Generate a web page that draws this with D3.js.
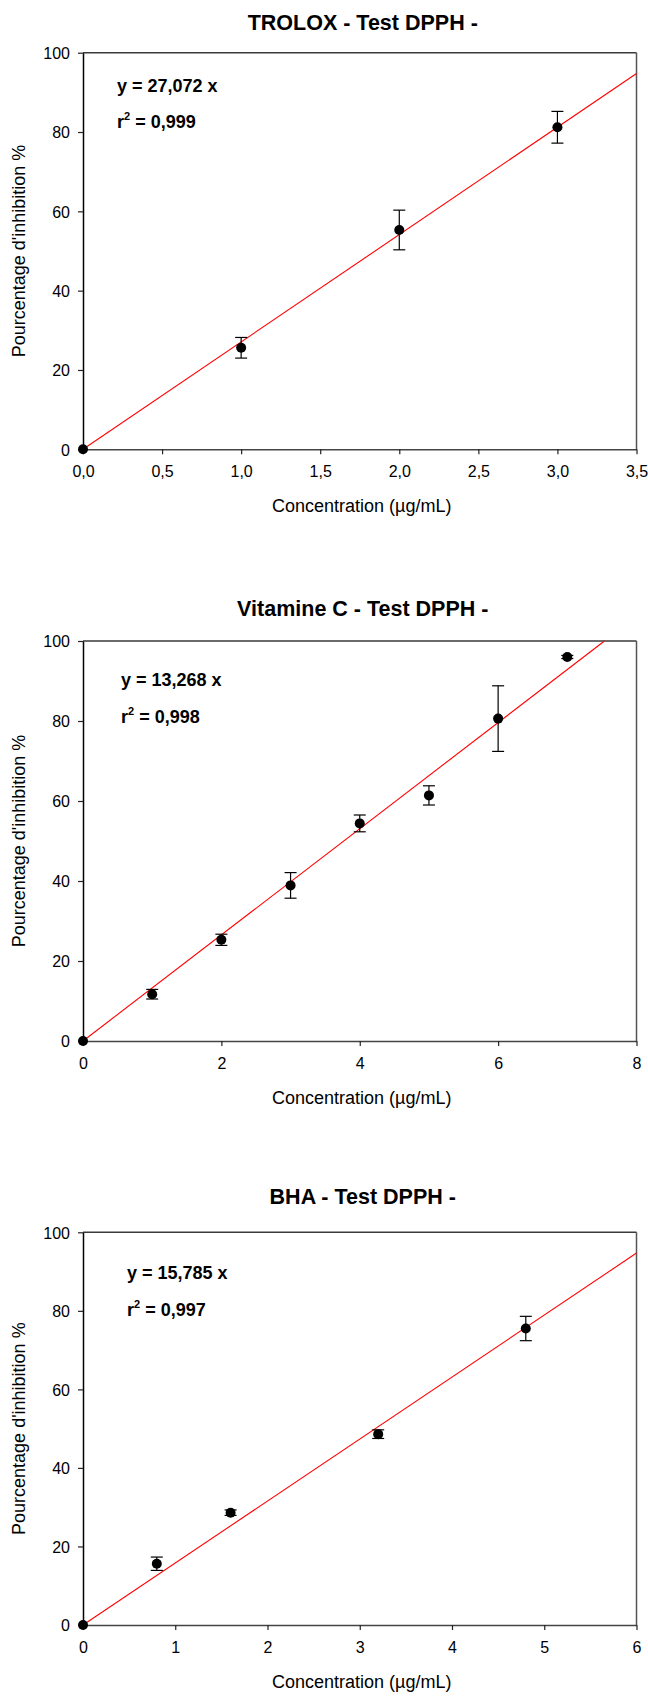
<!DOCTYPE html>
<html><head><meta charset="utf-8">
<script src="https://cdn.jsdelivr.net/npm/d3@7/dist/d3.min.js"></script>
<style>
html,body{margin:0;padding:0;background:#fff;}
text{font-family:"Liberation Sans",Arial,sans-serif;fill:#000;}
</style></head>
<body>
<svg id="c" width="648" height="1697"></svg>
<script>
// ---- data ----
const titles = ["TROLOX - Test DPPH -", "Vitamine C - Test DPPH -", "BHA - Test DPPH -"];
const troloxX = [0, 1, 2, 3];
const troloxY = [0, 25.6, 55.3, 81.2];
const troloxErr = [0, 2.6, 5.0, 4.0];
const vitcX = [0, 1, 2, 3, 4, 5, 6, 7];
const vitcY = [0, 11.7, 25.3, 38.9, 54.4, 61.4, 80.6, 96.0];
const vitcErr = [0, 1.2, 1.4, 3.2, 2.1, 2.4, 8.2, 0.4];
const bhaX = [0, 0.8, 1.6, 3.2, 4.8];
const bhaY = [0, 15.6, 28.6, 48.6, 75.5];
const bhaErr = [0, 1.7, 0.7, 1.1, 3.1];
const slopes = [27.072, 13.268, 15.785];
const slopeLabels = ["27,072", "13,268", "15,785"];
const r2Labels = ["0,999", "0,998", "0,997"];
const xMax = [3.5, 8, 6];
const troloxTicks = [0, 0.5, 1, 1.5, 2, 2.5, 3, 3.5];
const troloxTickLabels = ["0,0", "0,5", "1,0", "1,5", "2,0", "2,5", "3,0", "3,5"];
const vitcTicks = [0, 2, 4, 6, 8];
const vitcTickLabels = ["0", "2", "4", "6", "8"];
const bhaTicks = [0, 1, 2, 3, 4, 5, 6];
const bhaTickLabels = ["0", "1", "2", "3", "4", "5", "6"];
const yTicks = [0, 20, 40, 60, 80, 100];
const yTickLabels = ["0", "20", "40", "60", "80", "100"];
const xTitle = "Concentration (µg/mL)";
const yTitle = "Pourcentage d'inhibition %";

const series = [
  {x: troloxX, y: troloxY, e: troloxErr, ticks: troloxTicks, labels: troloxTickLabels},
  {x: vitcX, y: vitcY, e: vitcErr, ticks: vitcTicks, labels: vitcTickLabels},
  {x: bhaX, y: bhaY, e: bhaErr, ticks: bhaTicks, labels: bhaTickLabels}
];

// ---- layout ----
const layout = [
  {left: 83, right: 636.5, top: 52.7, bottom: 449.3, titleY: 30, eqX: 117, eqY: 91.5, eq2Y: 128},
  {left: 83, right: 636.5, top: 641, bottom: 1041, titleY: 616, eqX: 121, eqY: 686, eq2Y: 722.5},
  {left: 83, right: 636.5, top: 1232.3, bottom: 1625, titleY: 1204, eqX: 127, eqY: 1279, eq2Y: 1316}
];

const svg = d3.select("#c");

series.forEach((s, i) => {
  const L = layout[i];
  const x = d3.scaleLinear().domain([0, xMax[i]]).range([L.left, L.right]);
  const y = d3.scaleLinear().domain([0, 100]).range([L.bottom, L.top]);
  const g = svg.append("g");

  // title
  g.append("text").attr("x", (L.left + L.right) / 2 + 3).attr("y", L.titleY)
    .attr("text-anchor", "middle").style("font-size", "21.5px").style("font-weight", "bold")
    .text(titles[i]);

  // frame top/right
  g.append("line").attr("x1", L.left).attr("x2", L.right).attr("y1", L.top).attr("y2", L.top)
    .attr("stroke", "#3a3a3a").attr("stroke-width", 1.5);
  g.append("line").attr("x1", L.right).attr("x2", L.right).attr("y1", L.top).attr("y2", L.bottom)
    .attr("stroke", "#555").attr("stroke-width", 1.5);

  // x axis
  const xa = g.append("g").attr("transform", `translate(0,${L.bottom})`)
    .call(d3.axisBottom(x).tickValues(s.ticks).tickSize(5).tickSizeOuter(0)
      .tickFormat((d, k) => s.labels[k]));
  xa.select(".domain").attr("stroke", "#444").attr("stroke-width", 1.5);
  xa.selectAll(".tick line").attr("stroke", "#222").attr("stroke-width", 1.2);
  xa.selectAll(".tick text").attr("y", 28).attr("dy", null)
    .style("font-size", "16px").style("font-family", "Liberation Sans, Arial, sans-serif").attr("fill", "#000");

  // y axis
  const ya = g.append("g").attr("transform", `translate(${L.left},0)`)
    .call(d3.axisLeft(y).tickValues(yTicks).tickSize(5).tickSizeOuter(0)
      .tickFormat((d, k) => yTickLabels[k]));
  ya.select(".domain").attr("stroke", "#000").attr("stroke-width", 1.5);
  ya.selectAll(".tick line").attr("stroke", "#222").attr("stroke-width", 1.2);
  ya.selectAll(".tick text").attr("x", -13).attr("dy", "0.36em")
    .style("font-size", "16px").style("font-family", "Liberation Sans, Arial, sans-serif").attr("fill", "#000");

  // axis titles
  g.append("text").attr("x", (L.left + L.right) / 2 + 2).attr("y", L.bottom + 62.5)
    .attr("text-anchor", "middle").style("font-size", "18px").text(xTitle);
  g.append("text").attr("transform", `translate(25,${(L.top + L.bottom) / 2}) rotate(-90)`)
    .attr("text-anchor", "middle").style("font-size", "18px").text(yTitle);

  // regression line
  const xEnd = Math.min(xMax[i], 100 / slopes[i]);
  g.append("line").attr("x1", x(0)).attr("y1", y(0)).attr("x2", x(xEnd)).attr("y2", y(slopes[i] * xEnd))
    .attr("stroke", "#ff0000").attr("stroke-width", 1.1);

  // error bars
  const pts = s.x.map((v, k) => ({x: v, y: s.y[k], e: s.e[k]}));
  const eb = g.append("g").attr("stroke", "#000").attr("stroke-width", 1.2);
  pts.filter(p => p.e > 0).forEach(p => {
    eb.append("line").attr("x1", x(p.x)).attr("x2", x(p.x)).attr("y1", y(p.y - p.e)).attr("y2", y(p.y + p.e));
    [p.y - p.e, p.y + p.e].forEach(v => {
      eb.append("line").attr("x1", x(p.x) - 6).attr("x2", x(p.x) + 6).attr("y1", y(v)).attr("y2", y(v));
    });
  });

  // markers
  g.selectAll("circle.m").data(pts).enter().append("circle").attr("class", "m")
    .attr("cx", d => x(d.x)).attr("cy", d => y(d.y)).attr("r", 5).attr("fill", "#000");

  // equation
  g.append("text").attr("x", L.eqX).attr("y", L.eqY).style("font-size", "18px").style("font-weight", "bold")
    .text(`y = ${slopeLabels[i]} x`);
  const t2 = g.append("text").attr("x", L.eqX).attr("y", L.eq2Y).style("font-size", "18px").style("font-weight", "bold");
  t2.append("tspan").text("r");
  t2.append("tspan").attr("dy", -8).style("font-size", "11px").text("2");
  t2.append("tspan").attr("dy", 8).text(` = ${r2Labels[i]}`);
});
</script>
</body></html>
